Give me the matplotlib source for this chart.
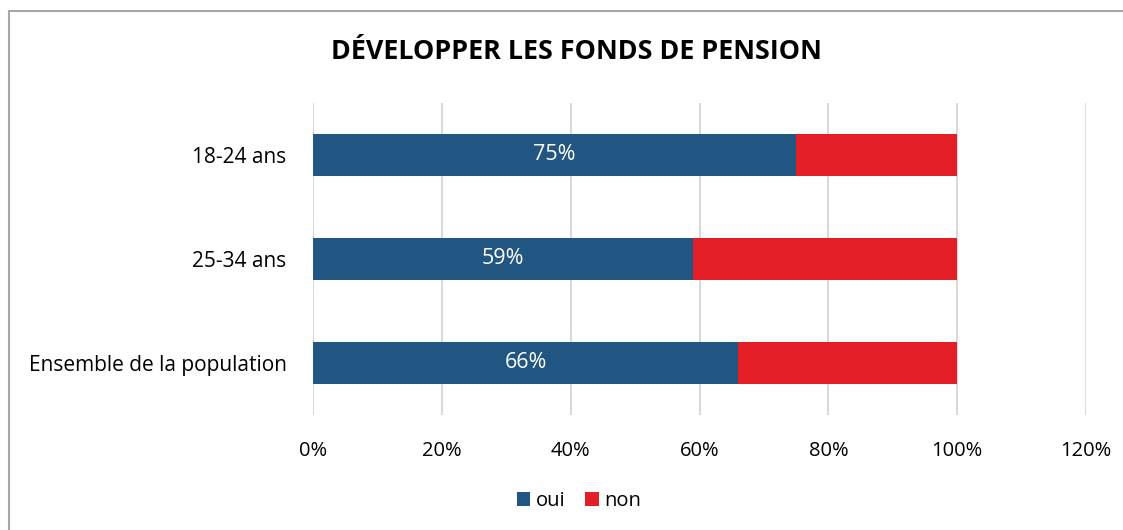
import matplotlib.pyplot as plt
from matplotlib.patches import Rectangle
from matplotlib.ticker import PercentFormatter

# data
categories = ["Ensemble de la population", "25-34 ans", "18-24 ans"]
oui = [66, 59, 75]
non = [34, 41, 25]
series_names = ["oui", "non"]
colors = ["#215582", "#E41E26"]

plt.rcParams['font.family'] = ['Open Sans', 'DejaVu Sans']

fig = plt.figure(figsize=(11.23, 5.30), dpi=100)
ax = fig.add_axes([313 / 1123, 1 - 415 / 530, (1086 - 313) / 1123, (415 - 103) / 530])

y = range(len(categories))
b1 = ax.barh(y, oui, height=0.4, color=colors[0], label=series_names[0])
b2 = ax.barh(y, non, left=oui, height=0.4, color=colors[1], label=series_names[1])
for rect, v in zip(b1, oui):
    ax.text(rect.get_x() + rect.get_width() / 2, rect.get_y() + rect.get_height() / 2,
            f"{v}%", ha="center", va="center", color="white", fontsize=15.5)

ax.set_xlim(0, 120)
ax.set_ylim(-0.5, 2.5)
ax.set_xticks(range(0, 121, 20))
ax.xaxis.set_major_formatter(PercentFormatter(decimals=0))
ax.set_yticks(list(y))
ax.set_yticklabels(categories)
ax.tick_params(axis="x", length=0, labelsize=14.5, pad=19)
ax.tick_params(axis="y", length=0, labelsize=15, pad=19)
ax.grid(axis="x", color="#D9D9D9", linewidth=1.5)
ax.set_axisbelow(True)
for s in ax.spines.values():
    s.set_visible(False)

fig.text(576 / 1123, 1 - 52 / 530, "DÉVELOPPER LES FONDS DE PENSION",
         ha="center", va="center", fontsize=19.4, fontweight="bold")

fig.legend(handles=[b1, b2], loc="center", bbox_to_anchor=(579 / 1123, 1 - 501 / 530),
           ncol=2, frameon=False, fontsize=14.5, handlelength=0.65, handleheight=0.65,
           handletextpad=0.3, columnspacing=1.0)

# chart border (only top and left edges visible in the crop)
fig.patches.append(Rectangle((8.5 / 1123, -0.1), 1.2, 1.1 - 11 / 530,
                             transform=fig.transFigure, fill=False,
                             edgecolor="#A6A6A6", linewidth=1.5))

fig.savefig("out.png", dpi=100)
